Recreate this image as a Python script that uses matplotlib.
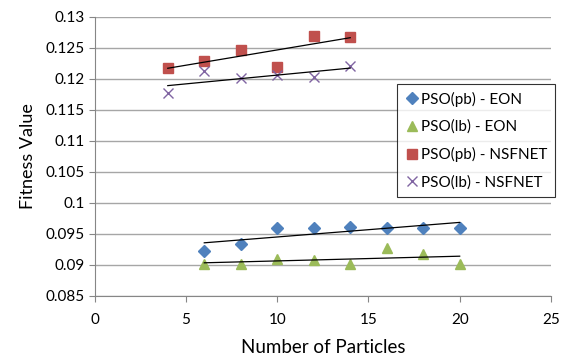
import numpy as np
import matplotlib.pyplot as plt

plt.rcParams['font.family'] = ['Lato', 'DejaVu Sans']

# data
x_eon = [6, 8, 10, 12, 14, 16, 18, 20]
pb_eon = [0.0923, 0.0933, 0.0960, 0.0960, 0.0961, 0.0960, 0.0960, 0.0960]
lb_eon = [0.0902, 0.0901, 0.0910, 0.0908, 0.0902, 0.0928, 0.0917, 0.0902]

x_nsf = [4, 6, 8, 10, 12, 14]
pb_nsf = [0.1218, 0.1229, 0.1247, 0.1219, 0.1270, 0.1268]
lb_nsf = [0.1177, 0.1212, 0.1201, 0.1206, 0.1203, 0.1221]

labels = ['PSO(pb) - EON', 'PSO(lb) - EON', 'PSO(pb) - NSFNET', 'PSO(lb) - NSFNET']
y_ticks = [0.085, 0.09, 0.095, 0.1, 0.105, 0.11, 0.115, 0.12, 0.125, 0.13]
x_ticks = [0, 5, 10, 15, 20, 25]

fig = plt.figure(figsize=(5.61, 3.6), dpi=100)
ax = fig.add_axes([0.169, 0.178, 0.813, 0.775])

series = [
    (x_eon, pb_eon, 'D', '#4F81BD', 6.5),
    (x_eon, lb_eon, '^', '#9BBB59', 7.5),
    (x_nsf, pb_nsf, 's', '#C0504D', 7.5),
    (x_nsf, lb_nsf, 'x', '#8064A2', 7.5),
]
for (xs, ys, m, c, ms), lab in zip(series, labels):
    if m == 'x':
        ax.plot(xs, ys, ls='none', marker=m, color=c, ms=ms, mew=1.0, label=lab, zorder=3)
    else:
        ax.plot(xs, ys, ls='none', marker=m, color=c, ms=ms, mec=c, label=lab, zorder=3)
    # linear trendline
    k, b = np.polyfit(xs, ys, 1)
    xx = np.array([min(xs), max(xs)])
    ax.plot(xx, k * xx + b, color='black', lw=0.9, zorder=4)

ax.set_xlim(0, 25)
ax.set_ylim(0.085, 0.13)
ax.set_xticks(x_ticks)
ax.set_yticks(y_ticks)
ax.set_yticklabels([f'{v:g}' for v in y_ticks])
ax.yaxis.grid(True, color='#a6a6a6', lw=1)
ax.set_axisbelow(True)

for s in ['top', 'right']:
    ax.spines[s].set_visible(False)
for s in ['left', 'bottom']:
    ax.spines[s].set_color('#868686')
ax.tick_params(colors='#868686', labelcolor='black', labelsize=11, length=4, direction='out')
ax.tick_params(axis='x', pad=8)

ax.set_xlabel('Number of Particles', fontsize=13.5, labelpad=9)
ax.set_ylabel('Fitness Value', fontsize=13, labelpad=7)

leg = ax.legend(loc='upper left', bbox_to_anchor=(0.645, 0.787), fontsize=11,
                frameon=True, fancybox=False, handletextpad=0.1, handlelength=1.0,
                labelspacing=0.85, borderpad=0.5, numpoints=1)
leg.get_frame().set_edgecolor('black')
leg.get_frame().set_linewidth(0.8)

fig.savefig('out.png', dpi=100)
